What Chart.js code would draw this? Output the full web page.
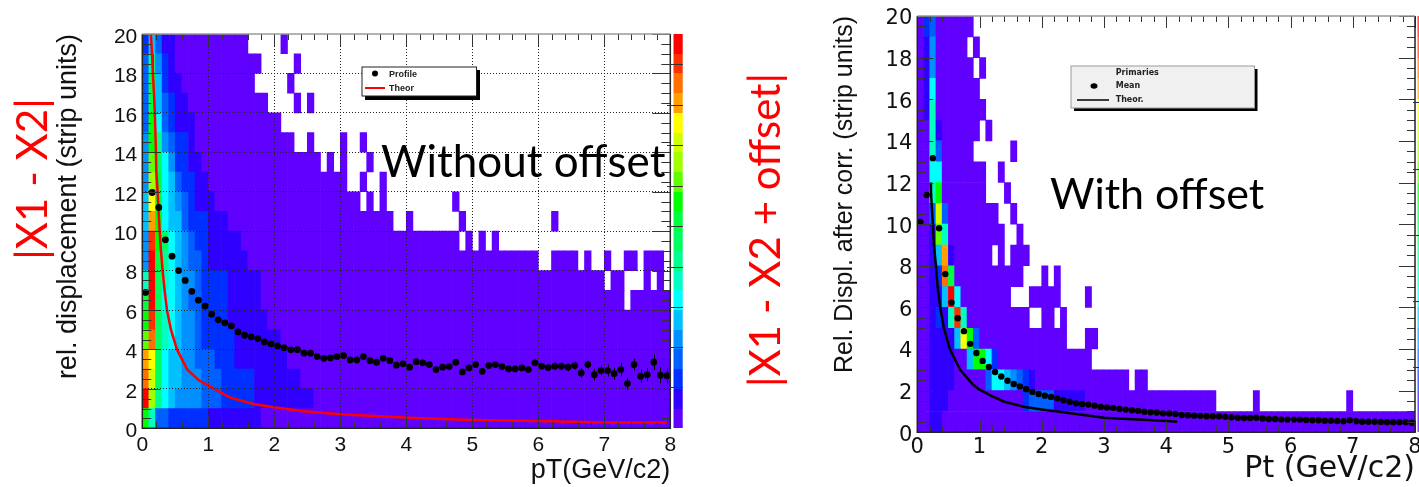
<!DOCTYPE html>
<html>
<head>
<meta charset="utf-8">
<style>
  html, body { margin: 0; padding: 0; background: #fff; overflow: hidden; }
  canvas { position: absolute; top: 0; }
  #leftChart { left: 0; }
  #rightChart { left: 720px; }
</style>
<script src="https://cdn.jsdelivr.net/npm/chart.js@4"></script>
</head>
<body>
<canvas id="leftChart" width="720" height="487"></canvas>
<canvas id="rightChart" width="699" height="487"></canvas>
<script>
// ROOT rainbow palette, lowest level first
const palette = ['#6000ff','#3000ff','#0030ff','#0060ff','#0090ff','#00c0ff','#00ffff','#00ffc0','#00ff90','#00ff60',
                 '#00ff40','#00ff00','#60ff00','#a0ff00','#d0ff00','#ffff00','#ffa000','#ff7000','#ff3000','#ff0000'];

const xTicks = [0,1,2,3,4,5,6,7,8];
const yTicks = [0,2,4,6,8,10,12,14,16,18,20];

// each row is level,count,level,count... from pT=0, -1 is an empty run. top row (19-20) first
const leftRows = [
  [2,1,5,1,3,1,1,2,0,11,-1,5,0,1],
  [3,1,8,1,4,1,2,1,1,1,0,13,-1,5,0,1],
  [3,1,10,1,5,1,2,1,1,2,0,11,-1,5,0,1],
  [3,1,10,1,5,1,3,1,2,1,1,2,0,12,-1,4,0,1,-1,1,0,1],
  [3,1,11,1,6,1,3,1,2,1,1,3,0,13],
  [4,1,11,1,8,1,4,1,3,1,2,2,1,1,0,15,-1,2,0,1,-1,4,0,1,-1,2,0,1],
  [4,1,12,1,9,1,6,1,4,1,2,2,1,2,0,18,-1,1,0,1,-1,1,0,1,-1,3,0,1],
  [4,1,13,1,10,1,6,1,5,1,3,1,2,2,1,2,0,21,-1,2,0,1,-1,2,0,1],
  [5,1,15,1,10,1,6,1,5,1,4,1,3,1,2,1,1,3,0,22,-1,1,0,1,-1,1,0,1,-1,10,0,1],
  [5,1,16,1,11,1,6,1,5,2,3,1,2,3,1,3,0,25,-1,2,0,1,-1,7,0,1,-1,13,0,1],
  [4,1,18,1,11,1,9,1,6,1,5,1,4,1,3,1,2,2,1,5,0,33,-1,1,0,1,-1,1,0,1,-1,1,0,1],
  [4,1,19,1,10,1,8,1,6,1,5,1,4,1,3,2,2,1,1,6,0,44,-1,2,0,4,-1,1,0,1,-1,2,0,1,-1,2,0,2,-1,1,0,3,-1,1],
  [7,1,19,1,9,1,7,1,6,1,5,1,4,2,3,1,2,4,1,5,0,52,-1,1,0,2,-1,3,0,1,-1,1,0,1,-1,1],
  [10,1,19,1,9,1,6,2,5,1,4,1,3,2,2,4,1,5,0,55,-1,1,0,6],
  [11,1,18,1,9,1,7,1,6,1,5,1,4,2,3,1,2,4,1,6,0,61],
  [12,1,17,1,9,1,7,1,6,1,5,1,4,2,3,1,2,5,1,7,0,59],
  [16,1,15,1,9,1,6,1,5,2,4,2,3,3,2,3,1,8,0,58],
  [17,1,14,1,9,1,6,1,5,2,4,3,3,3,2,5,1,7,0,56],
  [19,1,13,1,8,1,6,1,5,1,4,4,3,3,2,5,1,9,0,54],
  [11,1,7,1,3,2,2,6,1,8,0,62]
];

const rightRows = [
  [0,1,2,1,3,1,0,6],
  [0,1,1,1,4,1,0,5,-1,1,0,1],
  [0,1,1,1,4,1,0,6,-1,1,0,1],
  [0,1,1,1,6,1,0,7],
  [0,1,1,1,7,1,0,8],
  [0,2,7,1,1,1,0,6,-1,1,0,1],
  [0,2,7,1,3,1,0,5,-1,6,0,1],
  [0,2,6,2,0,7,-1,2,0,1],
  [0,2,7,1,11,1,0,7,-1,3,0,1],
  [0,2,3,1,14,1,3,1,0,8,-1,2,0,1],
  [0,2,1,1,12,1,7,1,0,9,-1,2,0,1],
  [0,2,1,1,5,1,16,1,1,1,0,6,-1,1,0,1,-1,1,0,3],
  [0,2,1,1,2,1,17,1,10,1,0,11,-1,3,0,1,-1,1,0,1],
  [0,2,1,2,5,1,19,1,6,1,0,8,-1,3,0,5,-1,4,0,1],
  [0,2,1,1,2,1,1,1,7,1,18,1,7,1,0,10,-1,2,0,2,-1,1,0,1],
  [0,2,1,4,5,1,15,1,11,1,3,1,0,14,-1,3,0,2],
  [0,2,1,4,0,2,5,1,11,2,6,1,2,1,0,15],
  [0,2,1,4,0,5,3,1,6,2,5,1,4,1,3,1,2,1,1,1,0,15,-1,1,0,2],
  [0,2,1,3,0,12,2,1,3,4,1,5,0,21,-1,6,0,1,-1,14,0,1],
  [0,2,1,2,0,76]
];

// profile points, one per 0.1 GeV bin
const leftProfile = [
  6.89,11.96,11.2,9.56,8.73,8.0,7.5,6.95,6.5,6.2,
  5.79,5.5,5.35,5.2,4.89,4.72,4.64,4.55,4.38,4.28,
  4.18,4.09,3.98,3.99,3.81,3.81,3.64,3.55,3.57,3.64,
  3.69,3.47,3.47,3.64,3.43,3.35,3.55,3.43,3.2,3.27,
  3.1,3.38,3.32,3.23,2.98,3.1,3.13,3.35,2.86,3.06,
  3.23,2.89,3.18,3.23,3.13,3.01,3.01,3.06,2.98,3.32,
  3.15,3.08,3.15,3.15,3.1,3.18,2.81,3.23,2.72,2.93,
  2.93,2.77,2.98,2.27,3.23,2.64,2.72,3.35,2.69,2.67
];
// error bars of the last 20 profile bins, the earlier ones hide behind the markers
const leftProfileErr = [.15,.15,.2,.2,.2,.2,.25,.2,.3,.25,.3,.3,.35,.3,.3,.35,.35,.4,.4,.4];

const rightProfile = [
  10.1,11.4,13.17,9.8,7.6,6.23,5.48,4.86,4.25,3.81,
  3.43,3.14,2.9,2.68,2.48,2.32,2.2,2.07,1.94,1.84,
  1.76,1.7,1.63,1.54,1.47,1.39,1.36,1.33,1.28,1.22,
  1.19,1.17,1.12,1.09,1.06,1.03,.99,.96,.95,.91,
  .9,.88,.83,.82,.8,.79,.77,.77,.77,.75,
  .72,.7,.69,.69,.7,.66,.64,.64,.62,.61,
  .61,.61,.59,.58,.58,.56,.56,.54,.53,.58,
  .53,.51,.51,.51,.5,.48,.48,.48,.48,.46
];

const leftTheorX = [.13,.147,.16,.177,.19,.207,.212,.232,.247,.263,.283,.308,.338,.374,.434,.525,.677,.85,1,1.33,1.7,2,2.44,3,4.02,5,6,7,7.95];
const leftTheorY = [20,19,18,17,16,14,13,12,11,10,9,8,7,6,5,4,3,2.45,2.18,1.56,1.22,1.07,.86,.71,.54,.42,.37,.3,.29];
const rightTheorX = [.214,.22,.23,.25,.267,.3,.326,.369,.427,.523,.689,.897,1,1.19,1.4,1.73,2,2.47,3,3.54,3.97,4.18];
const rightTheorY = [12,11.55,11,10,9,8,7,6,5,4,3,2.28,2.05,1.75,1.47,1.22,1.1,.91,.7,.62,.56,.51];

// palette axis ticks, in units of the y axis
const leftPaletteTicks = [18.48,16.4,14.36,12.28,10.25,8.2,6.17,4.1,2.07];
const rightPaletteTicks = [15.87,12.67,9.5,6.32,3.15];

function rowsToCells(rows) {
  const cells = [];
  rows.forEach((runs, r) => {
    let col = 0;
    for (let i = 0; i < runs.length; i += 2) {
      for (let n = 0; n < runs[i + 1]; n++, col++) {
        if (runs[i] >= 0) cells.push({ x: (col + 0.5) / 10, y: [19 - r, 20 - r], level: runs[i] });
      }
    }
  });
  return cells;
}

function zipXY(xs, ys) { return xs.map((x, i) => ({ x, y: ys[i] })); }
function binned(values) { return values.map((y, i) => ({ x: (i + 0.5) / 10, y })); }

function text(ctx, str, x, y, font, color, align, rot) {
  ctx.save();
  ctx.translate(x, y);
  if (rot) ctx.rotate(rot);
  ctx.font = font;
  ctx.fillStyle = color;
  ctx.textAlign = align || 'left';
  ctx.textBaseline = 'middle';
  ctx.fillText(str, 0, 0);
  ctx.restore();
}

function drawFrameTicks(chart, o) {
  const ctx = chart.ctx, a = chart.chartArea, sx = chart.scales.x, sy = chart.scales.y;
  ctx.save();
  ctx.lineWidth = 1;
  ctx.strokeStyle = '#333';
  ctx.beginPath();
  for (let i = 0; i <= 40; i++) {
    const px = Math.round(sx.getPixelForValue(i * 0.2)) + 0.5, len = i % 5 === 0 ? o.xMajor : o.xMinor;
    ctx.moveTo(px, a.bottom); ctx.lineTo(px, a.bottom - len);
    ctx.moveTo(px, a.top); ctx.lineTo(px, a.top + len);
  }
  for (let i = 0; i <= 40; i++) {
    const py = Math.round(sy.getPixelForValue(i * 0.5)) + 0.5, len = i % 4 === 0 ? o.yMajor : o.yMinor;
    ctx.moveTo(a.left, py); ctx.lineTo(a.left + len, py);
    ctx.moveTo(a.right, py); ctx.lineTo(a.right - len, py);
  }
  ctx.stroke();
  // frame, the top edge is lighter in the picture
  ctx.lineWidth = 1.5;
  ctx.strokeStyle = '#222';
  ctx.beginPath();
  ctx.moveTo(a.left, a.top); ctx.lineTo(a.left, a.bottom); ctx.lineTo(a.right, a.bottom); ctx.lineTo(a.right, a.top);
  ctx.stroke();
  ctx.strokeStyle = '#999';
  ctx.beginPath();
  ctx.moveTo(a.left, a.top); ctx.lineTo(a.right, a.top);
  ctx.stroke();
  ctx.restore();
}

function drawPaletteBar(chart, x0, x1, tickFrom, tickTo, ticks, alpha) {
  const ctx = chart.ctx, sy = chart.scales.y;
  ctx.save();
  ctx.globalAlpha = alpha;
  palette.forEach((c, i) => {
    const top = Math.round(sy.getPixelForValue(i + 1)), bot = Math.round(sy.getPixelForValue(i));
    ctx.fillStyle = c;
    ctx.fillRect(x0, top, x1 - x0, bot - top);
  });
  ctx.globalAlpha = 1;
  ctx.strokeStyle = '#333';
  ctx.lineWidth = 1;
  ctx.beginPath();
  ticks.forEach(v => {
    const py = Math.round(sy.getPixelForValue(v)) + 0.5;
    ctx.moveTo(tickFrom, py); ctx.lineTo(tickTo, py);
  });
  ctx.stroke();
  ctx.restore();
}

const leftDecor = {
  id: 'leftDecor',
  afterDatasetsDraw(chart) {
    const ctx = chart.ctx, sx = chart.scales.x, sy = chart.scales.y;
    // error bars
    ctx.save();
    ctx.strokeStyle = '#000';
    ctx.lineWidth = 1;
    ctx.beginPath();
    leftProfileErr.forEach((e, i) => {
      const idx = 60 + i, px = Math.round(sx.getPixelForValue((idx + 0.5) / 10)) + 0.5;
      ctx.moveTo(px, sy.getPixelForValue(leftProfile[idx] + e));
      ctx.lineTo(px, sy.getPixelForValue(leftProfile[idx] - e));
    });
    ctx.stroke();
    ctx.restore();
  },
  afterDraw(chart) {
    const ctx = chart.ctx;
    drawFrameTicks(chart, { xMajor: 12, xMinor: 6, yMajor: 18, yMinor: 9 });
    drawPaletteBar(chart, 673.5, 682.7, 667, 683, leftPaletteTicks, 1);

    // legend box
    ctx.fillStyle = '#000';
    ctx.fillRect(365, 70, 115, 30);
    ctx.fillStyle = '#fff';
    ctx.fillRect(362, 67, 114.5, 29);
    ctx.strokeStyle = '#222';
    ctx.lineWidth = 1;
    ctx.strokeRect(362, 67, 114.5, 29);
    ctx.fillStyle = '#000';
    ctx.beginPath(); ctx.arc(375, 73.5, 3, 0, Math.PI * 2); ctx.fill();
    ctx.strokeStyle = '#f00';
    ctx.lineWidth = 2;
    ctx.beginPath(); ctx.moveTo(365, 88); ctx.lineTo(385, 88); ctx.stroke();
    text(ctx, 'Profile', 389, 74.5, 'bold 9px "Liberation Sans"', '#222');
    text(ctx, 'Theor', 389, 88.5, 'bold 9px "Liberation Sans"', '#222');

    text(ctx, 'Without offset', 381, 163, '44px Lato', '#000');
    text(ctx, '|X1 - X2|', 33, 179, '42px Lato', '#f00', 'center', -Math.PI / 2);
  }
};

const rightDecor = {
  id: 'rightDecor',
  afterDraw(chart) {
    const ctx = chart.ctx;
    drawFrameTicks(chart, { xMajor: 12, xMinor: 6, yMajor: 16, yMinor: 8 });
    drawPaletteBar(chart, 697.5, 699, 693, 699, rightPaletteTicks, 0.7);

    // legend box
    ctx.fillStyle = '#000';
    ctx.fillRect(354, 69, 183.5, 42);
    ctx.fillStyle = '#f0f0f0';
    ctx.fillRect(351, 66, 183.5, 42);
    ctx.strokeStyle = '#999';
    ctx.lineWidth = 1;
    ctx.strokeRect(351, 66, 183.5, 42);
    ctx.fillStyle = '#000';
    ctx.beginPath(); ctx.ellipse(374, 86, 3.5, 2.8, 0, 0, Math.PI * 2); ctx.fill();
    ctx.strokeStyle = '#000';
    ctx.lineWidth = 1.5;
    ctx.beginPath(); ctx.moveTo(357, 100); ctx.lineTo(389, 100); ctx.stroke();
    text(ctx, 'Primaries', 395.7, 72.7, 'bold 8px "DejaVu Sans"', '#222');
    text(ctx, 'Mean', 395.7, 86.3, 'bold 8px "DejaVu Sans"', '#222');
    text(ctx, 'Theor.', 395.7, 100, 'bold 8px "DejaVu Sans"', '#222');

    text(ctx, 'With offset', 330, 195, '43px Lato', '#000');
    text(ctx, '|X1 - X2 + offset|', 46, 230, '42px Lato', '#f00', 'center', -Math.PI / 2);
  }
};

function makeChart(id, c) {
  return new Chart(document.getElementById(id), {
    data: {
      datasets: [
        { type: 'scatter', order: 0, data: binned(c.profile), backgroundColor: '#000', pointRadius: c.radius, pointBorderWidth: 0 },
        { type: 'line', order: 1, data: zipXY(c.theorX, c.theorY), borderColor: c.theorColor, borderWidth: c.theorWidth, pointRadius: 0, tension: 0 },
        { type: 'bar', order: 2, data: rowsToCells(c.rows), backgroundColor: k => palette[k.raw.level],
          grouped: false, barPercentage: 1, categoryPercentage: 1 }
      ]
    },
    options: {
      responsive: false,
      animation: false,
      events: [],
      layout: { padding: { left: 0, top: c.top, right: c.right, bottom: 0 } },
      plugins: { legend: { display: false }, tooltip: { enabled: false } },
      scales: {
        x: {
          type: 'linear', min: 0, max: 8, offset: false,
          afterBuildTicks: s => { s.ticks = xTicks.map(value => ({ value })); },
          afterFit: s => { s.height = c.xHeight; s.paddingLeft = 0; s.paddingRight = 0; },
          grid: { display: c.grid, offset: false, z: 1, drawTicks: false, color: k => (k.tick.value > 0 && k.tick.value < 8) ? '#222' : 'transparent' },
          border: { display: false, dash: [1, 2] },
          ticks: { autoSkip: false, maxRotation: 0, padding: c.xTickPad, color: '#111', font: { family: c.tickFont, size: c.tickSize } },
          title: { display: true, text: c.xTitle, align: 'end', color: '#111', padding: c.xTitlePad, font: { family: c.tickFont, size: c.xTitleSize } }
        },
        y: {
          type: 'linear', min: 0, max: 20,
          afterBuildTicks: s => { s.ticks = yTicks.map(value => ({ value })); },
          afterFit: s => { s.width = c.yWidth; s.paddingTop = 0; s.paddingBottom = 0; },
          grid: { display: c.grid, z: 1, drawTicks: false, color: k => (k.tick.value > 0 && k.tick.value < 20) ? '#222' : 'transparent' },
          border: { display: false, dash: [1, 2] },
          ticks: { autoSkip: false, padding: 5, labelOffset: 3, color: '#111', font: { family: c.tickFont, size: c.tickSize } },
          title: { display: true, text: c.yTitle, align: 'end', color: '#111', padding: c.yTitlePad, font: { family: 'Liberation Sans', size: c.yTitleSize } }
        }
      }
    },
    plugins: [c.decor]
  });
}

makeChart('leftChart', {
  rows: leftRows, profile: leftProfile, theorX: leftTheorX, theorY: leftTheorY, theorColor: '#f00', theorWidth: 2.5, radius: 3.4,
  top: 34, right: 49.7, xHeight: 58.7, yWidth: 142.3, grid: true, tickFont: 'Liberation Sans', tickSize: 21, xTickPad: 4,
  xTitle: 'pT(GeV/c2)', xTitleSize: 27, xTitlePad: { top: 0, bottom: 0 },
  yTitle: 'rel. displacement (strip units)', yTitleSize: 27, yTitlePad: { top: 52, bottom: 0 }, decor: leftDecor
});

makeChart('rightChart', {
  rows: rightRows, profile: rightProfile, theorX: rightTheorX, theorY: rightTheorY, theorColor: '#000', theorWidth: 2.5, radius: 3.2,
  top: 16, right: 2.6, xHeight: 54.7, yWidth: 197.3, grid: false, tickFont: 'DejaVu Sans', tickSize: 21, xTickPad: 3,
  xTitle: 'Pt (GeV/c2)', xTitleSize: 30, xTitlePad: { top: 0, bottom: 0 },
  yTitle: 'Rel. Displ. after corr. (strip units)', yTitleSize: 25, yTitlePad: { top: 110, bottom: 0 }, decor: rightDecor
});
</script>
</body>
</html>
